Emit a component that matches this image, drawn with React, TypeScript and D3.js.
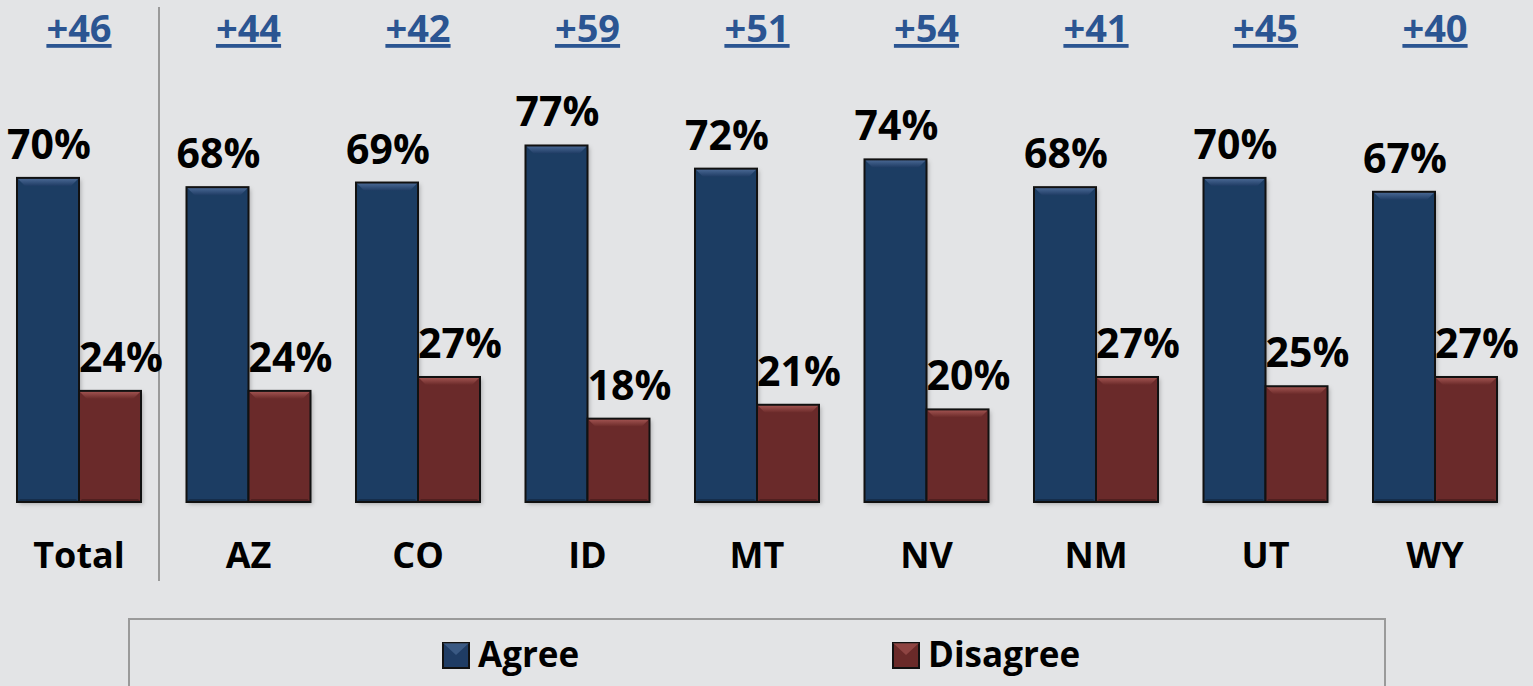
import React from 'react';
import * as d3 from 'd3';

const categories = ['Total', 'AZ', 'CO', 'ID', 'MT', 'NV', 'NM', 'UT', 'WY'];
const agree = [70, 68, 69, 77, 72, 74, 68, 70, 67];
const disagree = [24, 24, 27, 18, 21, 20, 27, 25, 27];
const margins = ['+46', '+44', '+42', '+59', '+51', '+54', '+41', '+45', '+40'];
const seriesNames = ['Agree', 'Disagree'];

const W = 1533;
const H = 686;
const FONT = '"Open Sans", Lato, sans-serif';

const colors: Record<string, { fill: string; bevel: string }> = {
  Agree: { fill: '#1f3c64', bevel: '#4d6c98' },
  Disagree: { fill: '#6a2a29', bevel: '#a65754' },
};

export default function App() {
  const baseline = 502;

  // group bands
  const x0 = d3.scaleBand<string>()
    .domain(categories)
    .range([-5.75, 1519.75])
    .padding(0);

  // bars inside a group
  const x1 = d3.scaleBand<string>()
    .domain(seriesNames)
    .range([0, x0.bandwidth()])
    .paddingInner(0)
    .paddingOuter(0.367);

  const y = d3.scaleLinear().domain([0, 100]).range([baseline, baseline - 463]);

  const rows = categories.map((c, i) => ({
    cat: c,
    vals: [
      { key: 'Agree', v: agree[i] },
      { key: 'Disagree', v: disagree[i] },
    ],
    margin: margins[i],
  }));

  const bev = 8;

  return (
    <svg
      width={W}
      height={H}
      style={{ position: 'absolute', left: 0, top: 0, display: 'block' }}
      fontFamily={FONT}
    >
      <defs>
        <filter id="shadow" x="-20%" y="-20%" width="140%" height="140%">
          <feDropShadow dx="2" dy="2" stdDeviation="2" floodColor="#000" floodOpacity="0.25" />
        </filter>
        {seriesNames.map((s) => (
          <linearGradient key={s} id={`bev-${s}`} x1="0" y1="0" x2="0" y2="1">
            <stop offset="0" stopColor={colors[s].bevel} />
            <stop offset="1" stopColor={colors[s].fill} />
          </linearGradient>
        ))}
      </defs>
      <rect width={W} height={H} fill="#e3e4e6" />

      {/* divider between Total and states */}
      <line x1={159} x2={159} y1={7} y2={581} stroke="#9a9a9a" strokeWidth={2} />

      {rows.map((r) => {
        const gx = x0(r.cat)!;
        const cx = gx + x0.bandwidth() / 2;
        return (
          <g key={r.cat}>
            {r.vals.map((d) => {
              const bx = gx + x1(d.key)!;
              const bw = x1.bandwidth();
              const top = y(d.v);
              const bh = baseline - top;
              const c = colors[d.key];
              const labelDx = d.key === 'Agree' ? 1 : 11;
              return (
                <g key={d.key}>
                  <rect x={bx} y={top} width={bw} height={bh} fill={c.fill} filter="url(#shadow)" />
                  <polygon
                    points={`${bx},${top} ${bx + bw},${top} ${bx + bw - bev},${top + bev} ${bx + bev},${top + bev}`}
                    fill={`url(#bev-${d.key})`}
                  />
                  <polygon
                    points={`${bx},${baseline} ${bx + bw},${baseline} ${bx + bw - 3},${baseline - 3} ${bx + 3},${baseline - 3}`}
                    fill="#000"
                    opacity={0.25}
                  />
                  <rect x={bx} y={top} width={bw} height={bh} fill="none" stroke="#111" strokeWidth={2} />
                  <text
                    x={bx + bw / 2 + labelDx}
                    y={top - 19}
                    textAnchor="middle"
                    fontSize={41}
                    fontWeight={700}
                    fill="#000"
                  >
                    {d.v}%
                  </text>
                </g>
              );
            })}
            <text
              x={cx}
              y={42}
              textAnchor="middle"
              fontSize={38}
              fontWeight={700}
              fill="#2b5592"
              textDecoration="underline"
            >
              {r.margin}
            </text>
            <text x={cx} y={568} textAnchor="middle" fontSize={36} fontWeight={700} fill="#000">
              {r.cat}
            </text>
          </g>
        );
      })}

      {/* legend */}
      <rect x={129} y={619} width={1256} height={80} fill="#e3e4e6" stroke="#9a9a9a" strokeWidth={2} />
      {seriesNames.map((s, i) => {
        const lx = i === 0 ? 443 : 893;
        const c = colors[s];
        return (
          <g key={s}>
            <rect x={lx} y={643} width={26} height={25} fill={c.fill} stroke="#111" strokeWidth={2} />
            <polygon points={`${lx},${643} ${lx + 26},${643} ${lx + 13},${655}`} fill={c.bevel} opacity={0.6} />
            <text x={lx + 35} y={667} fontSize={35} fontWeight={700} fill="#000">
              {s}
            </text>
          </g>
        );
      })}
    </svg>
  );
}
